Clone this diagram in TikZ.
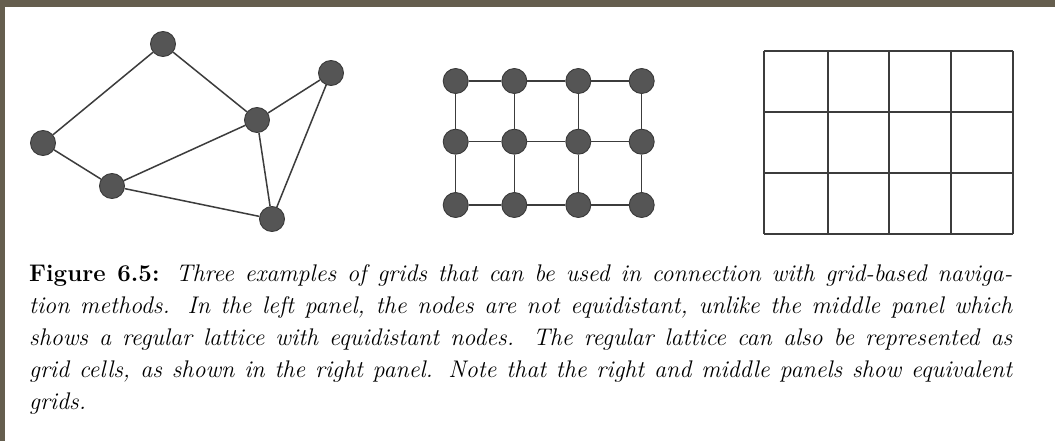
\documentclass[tikz,border=0pt]{standalone}
\usepackage{fontspec}
\definecolor{framec}{HTML}{655E4E}
\definecolor{nodefill}{HTML}{555555}
\definecolor{nodeline}{HTML}{3A3A3A}
\definecolor{edgec}{HTML}{3C3C3C}
\newdimen\capmax
\newsavebox\capbox
\def\capA{{\upshape\bfseries Figure 6.5:} Three examples of grids that can be used in connection with grid-based naviga-}
\def\capB{tion methods. In the left panel, the nodes are not equidistant, unlike the middle panel which}
\def\capC{shows a regular lattice with equidistant nodes. The regular lattice can also be represented as}
\def\capD{grid cells, as shown in the right panel. Note that the right and middle panels show equivalent}
\newcommand{\capmeasure}[1]{\setbox\capbox=\hbox{\fontsize{10}{12}\selectfont\itshape #1}\ifdim\wd\capbox>\capmax \global\capmax=\wd\capbox\fi}
\def\capsize{20}
\AtBeginDocument{%
  \global\capmax=0pt
  \capmeasure{\capA}\capmeasure{\capB}\capmeasure{\capC}\capmeasure{\capD}%
  \ifdim\capmax>10pt
    \pgfmathsetmacro\capsizetmp{10*978/\capmax}%
    \xdef\capsize{\capsizetmp}%
  \fi}
\newcommand{\capw}[1]{\makebox[983pt][s]{#1}}
\tikzset{
  dot/.style={circle, fill=nodefill, draw=nodeline, line width=0.9pt, minimum size=25pt, inner sep=0pt},
  edge/.style={draw=edgec, line width=1.5pt},
  cell/.style={draw=edgec, line width=1.8pt},
  capline/.style={anchor=base west, inner sep=0pt, font=\fontsize{\capsize}{32}\selectfont\itshape}
}
\begin{document}
\begin{tikzpicture}[x=1pt,y=-1pt]
\useasboundingbox (0,0) rectangle (1055,441);
\fill[white] (0,0) rectangle (1055,441);
\fill[framec] (0,0) rectangle (1055,7);
\fill[framec] (0,0) rectangle (5,441);

% left panel
\node[dot] (t)  at (163,44) {};
\node[dot] (rt) at (331,73) {};
\node[dot] (m)  at (257,120) {};
\node[dot] (l)  at (43,143) {};
\node[dot] (ll) at (112,186) {};
\node[dot] (b)  at (272,219) {};
\draw[edge] (l) -- (t);
\draw[edge] (t) -- (m);
\draw[edge] (m) -- (rt);
\draw[edge] (l) -- (ll);
\draw[edge] (ll) -- (m);
\draw[edge] (ll) -- (b);
\draw[edge] (m) -- (b);
\draw[edge] (rt) -- (b);

% middle panel
\foreach \i/\x in {1/455.7,2/514.3,3/578.3,4/641.7}{
  \foreach \j/\y in {1/81,2/141.7,3/205}{
    \node[dot] (g\i\j) at (\x,\y) {};
  }
}
\foreach \j in {1,2,3}{
  \draw[edge] (g1\j) -- (g2\j);
  \draw[edge] (g2\j) -- (g3\j);
  \draw[edge] (g3\j) -- (g4\j);
}
\foreach \i in {1,2,3,4}{
  \draw[edge] (g\i1) -- (g\i2);
  \draw[edge] (g\i2) -- (g\i3);
}

% right panel
\foreach \x in {764.3,827.7,889,950.7,1013.3}{
  \draw[cell] (\x,51) -- (\x,234);
}
\foreach \y in {51,112.3,173.3,234}{
  \draw[cell] (764.3,\y) -- (1013.3,\y);
}

% caption
\node[capline] (c1) at (29,281) {\capw{\capA}};
\node[capline] (c2) at (29,313) {\capw{\capB}};
\node[capline] (c3) at (29,345) {\capw{\capC}};
\node[capline] (c4) at (29,377) {\capw{\capD}};
\node[capline] (c5) at (29,409) {grids.};
\end{tikzpicture}
\end{document}
